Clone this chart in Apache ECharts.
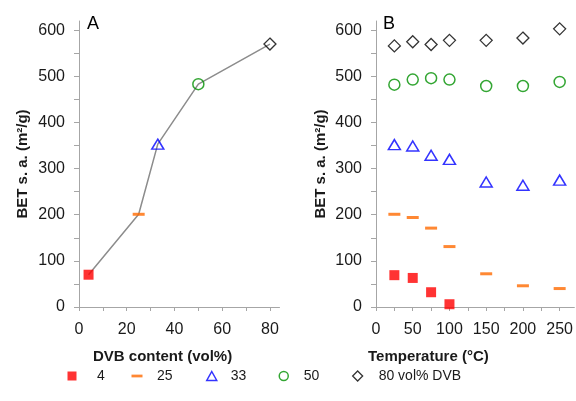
<!DOCTYPE html>
<html>
<head>
<meta charset="utf-8">
<script src="https://cdn.jsdelivr.net/npm/echarts@6/dist/echarts.min.js"></script>
<style>html,body{margin:0;padding:0;background:#fff}#c{width:576px;height:401px}</style>
</head>
<body>
<div id="c"></div>
<script>
// ---- data ----
const dvbContent = [4, 25, 33, 50, 80];
const betA = [70, 201, 353, 483, 570];
const temps = [25, 50, 75, 100, 150, 200, 250];
const bet4 = [69, 63, 32, 6];
const bet25 = [201, 194, 171, 131, 72, 46, 40];
const bet33 = [352, 349, 329, 320, 271, 264, 275];
const bet50 = [482, 493, 496, 493, 479, 479, 488];
const bet80 = [566, 575, 569, 578, 578, 583, 603];
const seriesNames = ['4', '25', '33', '50', '80 vol% DVB'];
const yLabels = [0, 100, 200, 300, 400, 500, 600];
const yTicks = [0, 50, 100, 150, 200, 250, 300, 350, 400, 450, 500, 550, 600];
const xLabelsA = [0, 20, 40, 60, 80];
const xTicksA = [0, 10, 20, 30, 40, 50, 60, 70, 80];
const xLabelsB = [0, 50, 100, 150, 200, 250];
const xTicksB = [0, 25, 50, 75, 100, 125, 150, 175, 200, 225, 250];
const titleA = 'DVB content (vol%)';
const titleB = 'Temperature (°C)';
const yTitle = 'BET s. a. (m²/g)';

const FONT = 'Liberation Sans, Arial, sans-serif';
const AX = '#a6a6a6';
const styles = [
  {symbol: 'rect', symbolSize: 10, itemStyle: {color: '#ff0000'}},
  {symbol: 'rect', symbolSize: [12, 3], itemStyle: {color: '#ff6a00'}},
  {symbol: 'triangle', symbolSize: [12, 10], itemStyle: {color: 'rgba(0,0,0,0)', borderColor: '#0000ff', borderWidth: 1.5}},
  {symbol: 'circle', symbolSize: 11, itemStyle: {color: 'rgba(0,0,0,0)', borderColor: '#009000', borderWidth: 1.5}},
  {symbol: 'diamond', symbolSize: 12, itemStyle: {color: 'rgba(0,0,0,0)', borderColor: '#000000', borderWidth: 1.3}}
];
const legendIcons = [
  {icon: 'rect', w: 9, h: 9, text: 97, c: 72},
  {icon: 'path://M0,0L12,0L12,3L0,3Z', w: 11, h: 11, text: 157, c: 137},
  {icon: 'triangle', w: 10, h: 9, text: 230, c: 211},
  {icon: 'circle', w: 9, h: 9, text: 303, c: 283},
  {icon: 'diamond', w: 10, h: 10, text: 378, c: 357}
];

function yAxis(gi) {
  return {
    type: 'value', gridIndex: gi, min: 0, max: 620,
    axisLine: {show: true, lineStyle: {color: AX, width: 1}},
    axisTick: {show: true, length: 5, lineStyle: {color: AX}, customValues: yTicks},
    axisLabel: {customValues: yLabels, margin: 14, color: '#1a1a1a', fontSize: 16, fontFamily: FONT},
    splitLine: {show: false},
    name: yTitle, nameLocation: 'middle', nameRotate: 90, nameGap: gi === 0 ? 49 : 48,
    nameTextStyle: {fontWeight: 'bold', fontSize: 15, color: '#1a1a1a', fontFamily: FONT}
  };
}
function xAxis(gi, max, ticks, labels) {
  return {
    type: 'value', gridIndex: gi, min: 0, max: max,
    axisLine: {show: true, onZero: false, lineStyle: {color: AX, width: 1}},
    axisTick: {show: true, length: 4, lineStyle: {color: AX}, customValues: ticks},
    axisLabel: {customValues: labels, margin: 15, color: '#1a1a1a', fontSize: 16, fontFamily: FONT},
    splitLine: {show: false}
  };
}

const series = [];
series.push({
  type: 'line', xAxisIndex: 0, yAxisIndex: 0, showSymbol: false, symbol: 'none',
  lineStyle: {color: '#8c8c8c', width: 1.5}, silent: true, z: 1,
  data: dvbContent.map((x, i) => [x, betA[i]])
});
const rightVals = [bet4, bet25, bet33, bet50, bet80];
seriesNames.forEach((n, i) => {
  series.push(Object.assign({
    type: 'scatter', name: n, xAxisIndex: 0, yAxisIndex: 0, z: 3,
    data: [[dvbContent[i], betA[i]]]
  }, styles[i]));
  series.push(Object.assign({
    type: 'scatter', name: n, xAxisIndex: 1, yAxisIndex: 1, z: 3,
    data: rightVals[i].map((v, j) => [temps[j], v])
  }, styles[i]));
});

const legends = seriesNames.map((n, i) => {
  const L = legendIcons[i];
  return {
    data: [n], left: L.c - L.w / 2, top: 369, icon: L.icon,
    itemWidth: L.w, itemHeight: L.h, itemGap: 0, padding: 0,
    selectedMode: false,
    itemStyle: styles[i].itemStyle,
    textStyle: {fontSize: 14, color: '#1a1a1a', fontFamily: FONT,
      padding: [0, 0, 0, L.text - (L.c - L.w / 2) - L.w - 5]}
  };
});

const chart = echarts.init(document.getElementById('c'), null, {renderer: 'canvas'});
chart.setOption({
  animation: false,
  backgroundColor: '#fff',
  grid: [
    {left: 79, top: 21, width: 200.5, height: 286},
    {left: 376, top: 21, width: 199, height: 286}
  ],
  xAxis: [xAxis(0, 84, xTicksA, xLabelsA), xAxis(1, 270, xTicksB, xLabelsB)],
  yAxis: [yAxis(0), yAxis(1)],
  legend: legends,
  series: series,
  graphic: [
    {type: 'text', left: 87, top: 15, style: {text: 'A', fill: '#000', font: '18px ' + FONT}},
    {type: 'text', left: 383, top: 15, style: {text: 'B', fill: '#000', font: '18px ' + FONT}},
    {type: 'text', left: 93, top: 349, style: {text: titleA, fill: '#1a1a1a', font: 'bold 15px ' + FONT}},
    {type: 'text', left: 368, top: 349, style: {text: titleB, fill: '#1a1a1a', font: 'bold 15px ' + FONT}}
  ]
});
</script>
</body>
</html>
